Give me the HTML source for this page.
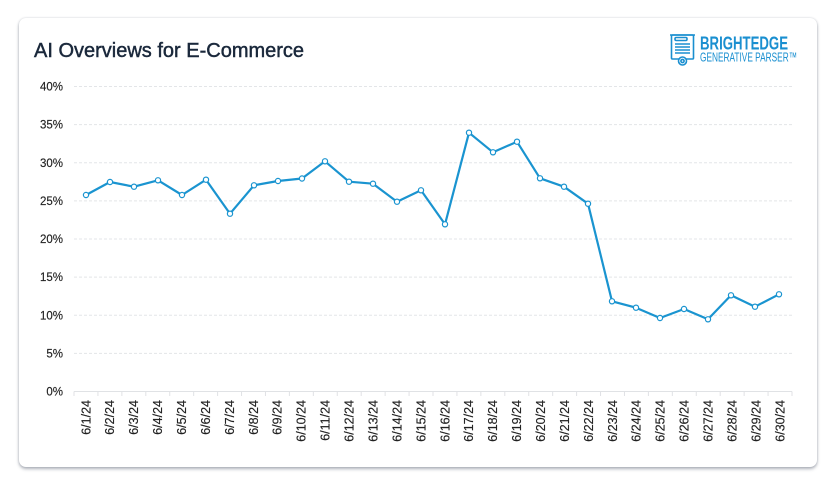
<!DOCTYPE html>
<html><head><meta charset="utf-8">
<style>
html,body{margin:0;padding:0;background:#ffffff;}
body{width:836px;height:487px;overflow:hidden;position:relative;font-family:"Liberation Sans",Arial,sans-serif;}
.card{position:absolute;left:19px;top:18px;width:798px;height:449px;background:#fff;border-radius:7px;box-shadow:0 2px 3px rgba(60,70,90,0.4),0 0 2px rgba(60,70,90,0.2);}
svg{position:absolute;left:0;top:0;}
</style></head>
<body>
<div class="card"></div>
<svg width="836" height="487" viewBox="0 0 836 487" xmlns="http://www.w3.org/2000/svg">
  <text x="34" y="57" font-family="Liberation Sans, Arial, sans-serif" font-size="20" fill="#1a283b" stroke="#1a283b" stroke-width="0.45">AI Overviews for E-Commerce</text>

  <!-- logo -->
  <g fill="none" stroke="#1a8fd0" stroke-width="1.6">
    <rect x="671.5" y="35" width="22" height="24" rx="1"/>
    <path d="M670 35 h25"/>
    <rect x="675" y="37.5" width="12" height="3" rx="1.2"/>
    <path d="M675 44 h15 M675 47 h15 M675 50 h15 M675 53 h15"/>
    <circle cx="682.5" cy="61" r="4" fill="#fff"/>
    <circle cx="682.5" cy="61" r="1.6"/>
  </g>
  <text x="700" y="49.5" font-family="Liberation Sans, Arial, sans-serif" font-weight="bold" font-size="18" fill="#1a8fd0" textLength="88" lengthAdjust="spacingAndGlyphs">BRIGHTEDGE</text>
  <text x="700" y="61.5" font-family="Liberation Sans, Arial, sans-serif" font-size="13" fill="#1a8fd0" textLength="97" lengthAdjust="spacingAndGlyphs">GENERATIVE PARSER™</text>

  <!-- gridlines -->
  <g stroke="#e3e5e8" stroke-width="1" stroke-dasharray="3,2">
    <line x1="74" y1="86.5" x2="792" y2="86.5"/>
    <line x1="74" y1="124.6" x2="792" y2="124.6"/>
    <line x1="74" y1="162.8" x2="792" y2="162.8"/>
    <line x1="74" y1="200.9" x2="792" y2="200.9"/>
    <line x1="74" y1="239" x2="792" y2="239"/>
    <line x1="74" y1="277.1" x2="792" y2="277.1"/>
    <line x1="74" y1="315.3" x2="792" y2="315.3"/>
    <line x1="74" y1="353.4" x2="792" y2="353.4"/>
  </g>
  <line x1="74" y1="391.5" x2="792" y2="391.5" stroke="#e0e2e5" stroke-width="1"/>
  <g stroke="#e0e2e5" stroke-width="1" id="ticks"></g>

  <!-- y labels -->
  <g font-family="Liberation Sans, Arial, sans-serif" font-size="11.5" fill="#222" stroke="#222" stroke-width="0.15" text-anchor="end">
    <text x="63" y="90.5">40%</text>
    <text x="63" y="128.6">35%</text>
    <text x="63" y="166.8">30%</text>
    <text x="63" y="204.9">25%</text>
    <text x="63" y="243">20%</text>
    <text x="63" y="281.1">15%</text>
    <text x="63" y="319.3">10%</text>
    <text x="63" y="357.4">5%</text>
    <text x="63" y="395.5">0%</text>
  </g>

  <g id="xl" font-family="Liberation Sans, Arial, sans-serif" font-size="12.5" fill="#222" stroke="#222" stroke-width="0.15" text-anchor="end"></g>

  <polyline fill="none" stroke="#1a94d0" stroke-width="2.2" stroke-linejoin="round"
    points="86,195 110,182 134,186.7 158,180.3 182,195 206,179.7 230,213.7 254,185.3 278,181 302,178.5 325,161.3 349,181.7 373,183.7 397,201.7 421,190.3 445,224.3 469,132.7 493,152.3 517,141.7 540,178.3 564,186.7 588,203.7 612,301.3 636,307.7 660,318 684,309 708,319.3 731,295.3 755,306.7 779,294.3"/>
  <g id="pts" fill="#fff" stroke="#1a94d0" stroke-width="1.2"></g>

  <script>
  (function(){
    var ns="http://www.w3.org/2000/svg";
    var t=document.getElementById('ticks');
    var w=718/30;
    for(var i=0;i<=30;i++){var x=74+i*w;var l=document.createElementNS(ns,'line');l.setAttribute('x1',x);l.setAttribute('x2',x);l.setAttribute('y1',391.5);l.setAttribute('y2',396);t.appendChild(l);}
    var xl=document.getElementById('xl');
    for(var d=1;d<=30;d++){var cx=74+(d-0.5)*w+4.3;var tx=document.createElementNS(ns,'text');tx.setAttribute('transform','translate('+cx+',400) rotate(-90)');tx.textContent='6/'+d+'/24';xl.appendChild(tx);}
    var pts="86,195 110,182 134,186.7 158,180.3 182,195 206,179.7 230,213.7 254,185.3 278,181 302,178.5 325,161.3 349,181.7 373,183.7 397,201.7 421,190.3 445,224.3 469,132.7 493,152.3 517,141.7 540,178.3 564,186.7 588,203.7 612,301.3 636,307.7 660,318 684,309 708,319.3 731,295.3 755,306.7 779,294.3".split(' ');
    var g=document.getElementById('pts');
    pts.forEach(function(p){var a=p.split(',');var c=document.createElementNS(ns,'circle');c.setAttribute('cx',a[0]);c.setAttribute('cy',a[1]);c.setAttribute('r',2.6);g.appendChild(c);});
  })();
  </script>
</svg>
</body></html>
